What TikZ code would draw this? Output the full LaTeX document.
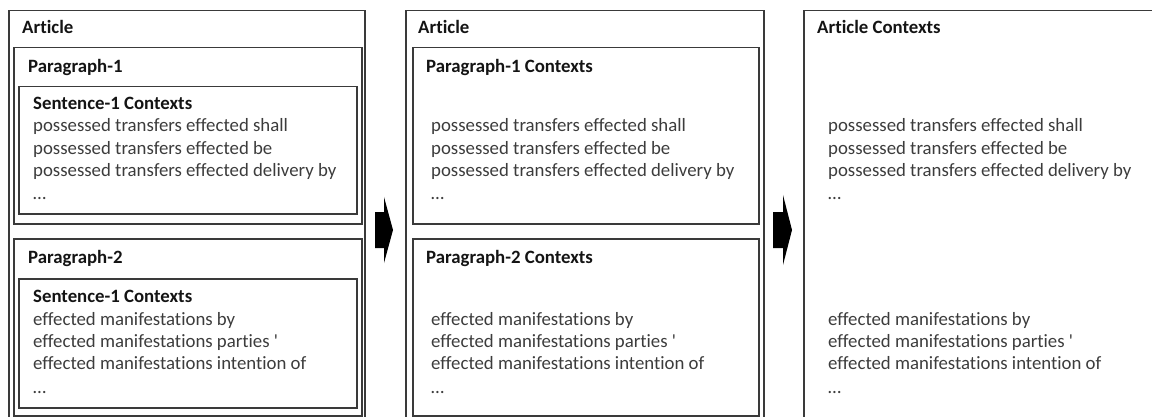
\documentclass[tikz,border=0pt]{standalone}
\usepackage{fontspec}
\setmainfont{Carlito}[Ligatures={CommonOff,TeXOff}]
\definecolor{boxgray}{HTML}{3A3A3A}
\definecolor{textgray}{HTML}{3C3C3C}
\definecolor{headblack}{HTML}{141414}
\begin{document}
\begin{tikzpicture}[x=1pt,y=-1pt,
  box/.style={draw=boxgray, line width=1.5pt, inner sep=0pt, anchor=north west},
  head/.style={anchor=base west, inner sep=0pt, font=\fontsize{18.8}{22}\selectfont\bfseries, text=headblack},
  body/.style={anchor=base west, inner sep=0pt, font=\fontsize{18.8}{22}\selectfont, text=textgray},
  blockarrow/.style={fill=black, draw=none},
]
\useasboundingbox (0,0) rectangle (1152,417);
\clip (0,0) rectangle (1152,417);

% ---------- left column: article / paragraph / sentence ----------
\node[box, minimum width=356pt, minimum height=420pt] (art1) at (8,10) {};
\node[box, minimum width=348pt, minimum height=176pt] (par1) at (13,47) {};
\node[box, minimum width=338pt, minimum height=127pt] (sen1) at (18,86) {};
\node[box, minimum width=348pt, minimum height=177pt] (par2) at (13,238) {};
\node[box, minimum width=338pt, minimum height=129pt] (sen2) at (18,278) {};

\node[head] (art1t) at (22,34) {Article};
\node[head] (par1t) at (28,73) {Paragraph-1};
\node[head] (sen1t) at (33,110) {Sentence-1 Contexts};
\node[body] (s1a) at (33,132) {possessed transfers effected shall};
\node[body] (s1b) at (33,155) {possessed transfers effected be};
\node[body] (s1c) at (33,177) {possessed transfers effected delivery by};
\node[body] (s1d) at (33,200) {…};
\node[head] (par2t) at (28,263) {Paragraph-2};
\node[head] (sen2t) at (33,302) {Sentence-1 Contexts};
\node[body] (s2a) at (33,325) {effected manifestations by};
\node[body] (s2b) at (33,347) {effected manifestations parties '};
\node[body] (s2c) at (33,369) {effected manifestations intention of};
\node[body] (s2d) at (33,393) {…};

% ---------- arrow 1 ----------
\fill[blockarrow] (375,212) -- (384,212) -- (384,197) -- (393,230) -- (384,263) -- (384,248) -- (375,248) -- cycle;

% ---------- middle column: article / paragraph contexts ----------
\node[box, minimum width=358pt, minimum height=420pt] (art2) at (405,10) {};
\node[box, minimum width=346pt, minimum height=176pt] (pc1) at (412,47) {};
\node[box, minimum width=346pt, minimum height=177pt] (pc2) at (412,238) {};

\node[head] (art2t) at (418,34) {Article};
\node[head] (pc1t) at (426,73) {Paragraph-1 Contexts};
\node[body] (p1a) at (431,132) {possessed transfers effected shall};
\node[body] (p1b) at (431,155) {possessed transfers effected be};
\node[body] (p1c) at (431,177) {possessed transfers effected delivery by};
\node[body] (p1d) at (431,200) {…};
\node[head] (pc2t) at (426,263) {Paragraph-2 Contexts};
\node[body] (p2a) at (431,325) {effected manifestations by};
\node[body] (p2b) at (431,347) {effected manifestations parties '};
\node[body] (p2c) at (431,369) {effected manifestations intention of};
\node[body] (p2d) at (431,393) {…};

% ---------- arrow 2 ----------
\fill[blockarrow] (773,212) -- (783,212) -- (783,195) -- (792,230) -- (783,265) -- (783,248) -- (773,248) -- cycle;

% ---------- right column: article contexts ----------
\node[box, minimum width=370pt, minimum height=420pt] (art3) at (803,10) {};
\node[head] (art3t) at (817,34) {Article Contexts};
\node[body] (a1) at (828,132) {possessed transfers effected shall};
\node[body] (a2) at (828,155) {possessed transfers effected be};
\node[body] (a3) at (828,177) {possessed transfers effected delivery by};
\node[body] (a4) at (828,200) {…};
\node[body] (a5) at (828,325) {effected manifestations by};
\node[body] (a6) at (828,347) {effected manifestations parties '};
\node[body] (a7) at (828,369) {effected manifestations intention of};
\node[body] (a8) at (828,393) {…};
\end{tikzpicture}
\end{document}
